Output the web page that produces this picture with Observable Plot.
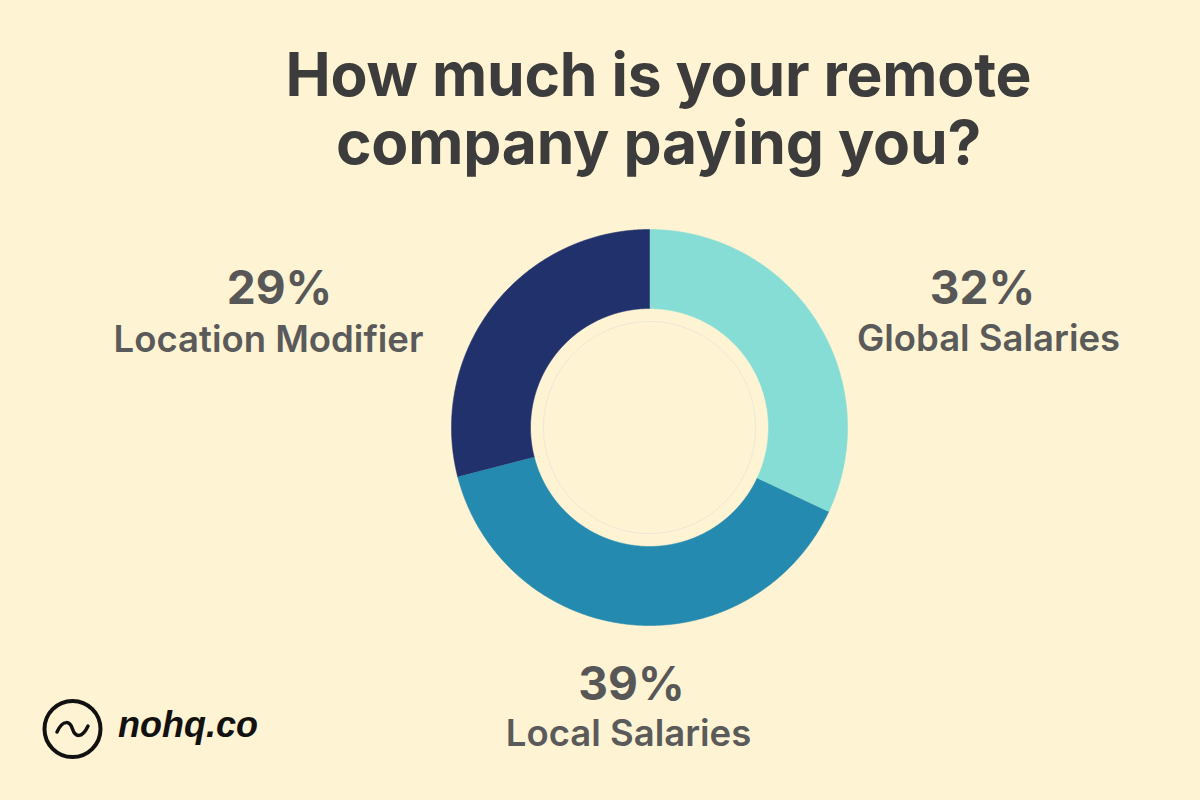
<!DOCTYPE html>
<html>
<head>
<meta charset="utf-8">
<script src="https://cdn.jsdelivr.net/npm/d3@7"></script>
<script src="https://cdn.jsdelivr.net/npm/@observablehq/plot@0.6"></script>
<style>
  html, body { margin: 0; padding: 0; background: #FEF3D2; }
  #page { position: relative; width: 1200px; height: 800px; overflow: hidden; background: #FEF3D2; }
  #title {
    position: absolute; left: 0; top: 40px; width: 1200px; padding-left: 117px; box-sizing: border-box;
    text-align: center; font-family: Inter, "Noto Sans", sans-serif; font-weight: 700;
    font-size: 60.5px; line-height: 68px; color: #3c3c3c; letter-spacing: -0.2px;
  }
  #chart { position: absolute; left: 0; top: 200px; }
  #logo { position: absolute; left: 0; top: 0; }
</style>
</head>
<body>
<div id="page">
  <div id="title">How much is your remote<br>company paying you?</div>
  <div id="chart"></div>
  <svg id="logo" width="300" height="800" viewBox="0 0 300 800">
    <circle cx="72.5" cy="729" r="28" fill="none" stroke="#111" stroke-width="4"/>
    <path d="M57 732 C 63 719, 70 721, 72.5 729 S 82 739, 88 726" fill="none" stroke="#111" stroke-width="3.5" stroke-linecap="round"/>
    <text x="118" y="737" font-family="'Liberation Sans', Arial, sans-serif" font-weight="700" font-style="italic" font-size="36" fill="#111">nohq.co</text>
  </svg>
</div>
<script>
// ---- data ----
const categories = ["Global Salaries", "Local Salaries", "Location Modifier"];
const shares = [32, 39, 29];
const labels = ["32%", "39%", "29%"];
const colors = ["#86DDD5", "#258AAF", "#21316C"];

// ---- layout ----
const W = 1200, H = 600, TOP = 200;
const CX = 649, CY = 427 - TOP, R = 198;
const INNER = 119 / 198;
const RING = 106 / 198;
// label anchors (page pixels): [percent x, percent baseline, name x, name baseline]
const labelAnchor = {
  "Global Salaries": [982, 303, 988, 350],
  "Local Salaries": [631, 699, 628, 745],
  "Location Modifier": [279, 303, 268, 351]
};

const toUx = px => (px - CX) / R;
const toUy = py => (CY - (py - TOP)) / R;

// ---- build slice polygons from the shares ----
const total = d3.sum(shares);
const step = Math.PI / 720;
const slicePts = [];
let start = 0;
categories.forEach((cat, i) => {
  const end = start + (shares[i] / total) * 2 * Math.PI;
  const n = Math.max(2, Math.ceil((end - start) / step));
  for (let k = 0; k <= n; k++) {
    const a = start + (end - start) * k / n;
    slicePts.push({cat, x: Math.sin(a), y: Math.cos(a)});
  }
  for (let k = n; k >= 0; k--) {
    const a = start + (end - start) * k / n;
    slicePts.push({cat, x: INNER * Math.sin(a), y: INNER * Math.cos(a)});
  }
  start = end;
});
const ringPts = d3.range(0, 721).map(k => {
  const a = k * step * 2;
  return {x: RING * Math.sin(a), y: RING * Math.cos(a)};
});

const labelData = categories.map((cat, i) => {
  const [px, py, nx, ny] = labelAnchor[cat];
  return {cat, pct: labels[i], x: toUx(px), y: toUy(py), x2: toUx(nx), y2: toUy(ny)};
});

const chart = Plot.plot({
  width: W, height: H, margin: 0,
  x: {domain: [-1, 1], range: [CX - R, CX + R], axis: null},
  y: {domain: [-1, 1], range: [CY + R, CY - R], axis: null},
  color: {domain: categories, range: colors},
  style: {background: "transparent", overflow: "visible"},
  marks: [
    Plot.line(slicePts, {x: "x", y: "y", z: "cat", fill: "cat", stroke: "cat", strokeWidth: 0.6}),
    Plot.line(ringPts, {x: "x", y: "y", stroke: "#e6e2d9", strokeWidth: 0.8}),
    Plot.text(labelData, {x: "x", y: "y", text: "pct", lineAnchor: "bottom", textAnchor: "middle",
      fontFamily: "Inter, sans-serif", fontWeight: 700, fontSize: 46, fill: "#575757"}),
    Plot.text(labelData, {x: "x2", y: "y2", text: "cat", lineAnchor: "bottom", textAnchor: "middle",
      fontFamily: "Inter, sans-serif", fontWeight: 600, fontSize: 36.5, fill: "#5a5a5a"})
  ]
});
document.getElementById("chart").appendChild(chart);
</script>
</body>
</html>
